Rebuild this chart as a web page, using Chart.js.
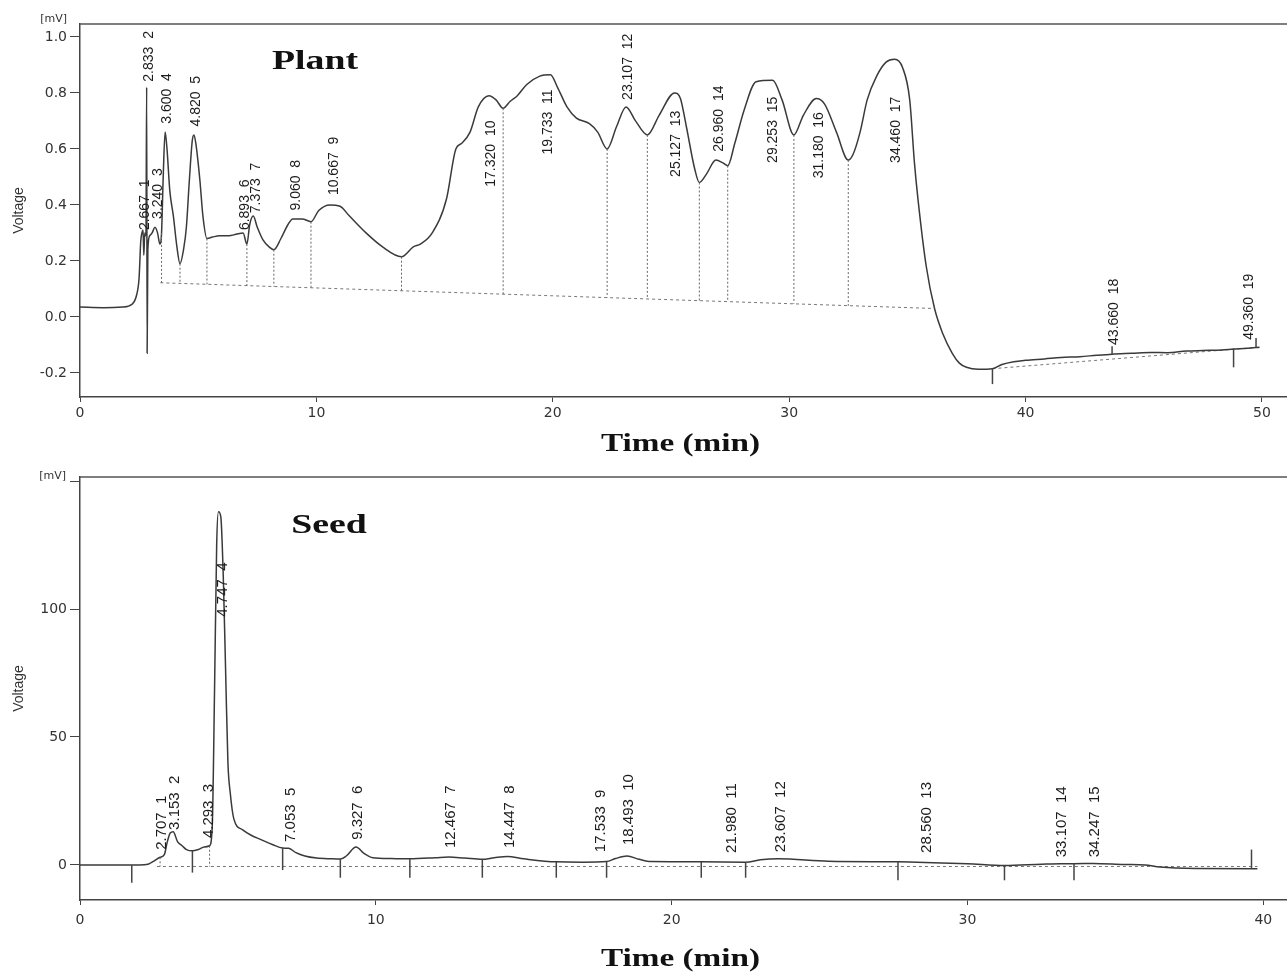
<!DOCTYPE html>
<html>
<head>
<meta charset="utf-8">
<title>Plant / Seed chromatograms</title>
<script src="https://cdn.jsdelivr.net/npm/chart.js@4.4.1/dist/chart.umd.min.js"></script>
<style>
  html, body { margin: 0; padding: 0; background: #fff; }
  #wrap { position: relative; width: 1287px; height: 973px; overflow: hidden; }
  canvas { position: absolute; left: 0; }
  #plant { top: 0; }
  #seed { top: 460px; }
</style>
</head>
<body>
<div id="wrap">
  <canvas id="plant" width="1287" height="460"></canvas>
  <canvas id="seed" width="1287" height="513"></canvas>
</div>
<script>
// --- Plant trace (time in min, signal in mV) ---
const plantTime = [0, 1.0, 1.8, 2.2, 2.4, 2.5, 2.57, 2.62, 2.667, 2.70, 2.74, 2.79, 2.82, 2.84, 2.87, 2.95, 3.05, 3.17, 3.28, 3.38,
  3.45, 3.52, 3.60, 3.68, 3.80, 3.95, 4.1, 4.23, 4.38, 4.5, 4.62, 4.75, 4.82, 4.9, 5.07, 5.2, 5.37, 5.6, 5.9, 6.3,
  6.6, 6.9, 7.06, 7.18, 7.33, 7.5, 7.74, 8.0, 8.2, 8.5, 8.8, 9.0, 9.4, 9.77, 10.1, 10.57, 11.0, 11.4, 12.1, 12.8,
  13.6, 14.1, 14.4, 14.9, 15.5, 15.9, 16.15, 16.5, 16.85, 17.3, 17.6, 17.9, 18.2, 18.5, 18.9, 19.45, 19.9, 20.2, 20.6, 21.0,
  21.55, 21.9, 22.3, 22.7, 23.1, 23.5, 24.0, 24.5, 25.15, 25.4, 25.65, 26.0, 26.2, 26.5, 26.9, 27.2, 27.4, 27.7, 28.1, 28.6,
  29.3, 29.7, 30.2, 30.6, 31.15, 31.5, 32.0, 32.5, 32.7, 33.0, 33.3, 33.7, 34.1, 34.46, 34.8, 35.1, 35.3, 35.45, 35.8, 36.15,
  36.5, 36.9, 37.2, 37.5, 38.0, 38.6, 39.0, 39.5, 40.0, 40.8, 41.5, 42.3, 43.0, 43.66, 44.5, 45.3, 46.0, 46.8, 47.5, 48.3,
  48.8, 49.4, 49.9];
const plantVolt = [0.035, 0.033, 0.035, 0.045, 0.08, 0.14, 0.27, 0.30, 0.31, 0.22, 0.30, 0.29, 0.82, -0.13, 0.24, 0.29, 0.30, 0.32, 0.30, 0.26,
  0.30, 0.50, 0.66, 0.60, 0.45, 0.36, 0.25, 0.19, 0.24, 0.32, 0.48, 0.63, 0.65, 0.62, 0.49, 0.36, 0.28, 0.285, 0.29, 0.29,
  0.295, 0.30, 0.26, 0.33, 0.36, 0.32, 0.275, 0.25, 0.24, 0.28, 0.33, 0.35, 0.35, 0.34, 0.38, 0.40, 0.395, 0.36, 0.30, 0.25,
  0.215, 0.25, 0.26, 0.30, 0.42, 0.60, 0.62, 0.66, 0.75, 0.79, 0.775, 0.745, 0.77, 0.79, 0.83, 0.86, 0.865, 0.82, 0.75, 0.71,
  0.69, 0.66, 0.60, 0.68, 0.75, 0.70, 0.65, 0.72, 0.80, 0.78, 0.68, 0.53, 0.48, 0.51, 0.56, 0.55, 0.54, 0.62, 0.74, 0.84,
  0.845, 0.775, 0.65, 0.72, 0.78, 0.76, 0.66, 0.56, 0.58, 0.66, 0.775, 0.86, 0.91, 0.92, 0.89, 0.775, 0.55, 0.42, 0.18, 0.03,
  -0.06, -0.13, -0.165, -0.18, -0.187, -0.185, -0.17, -0.16, -0.155, -0.15, -0.145, -0.142, -0.137, -0.133, -0.13, -0.127, -0.128, -0.122, -0.12, -0.118,
  -0.115, -0.112, -0.108];
const plantBaseTime = [3.4, 36.15];
const plantBaseVolt = [0.122, 0.03];
const plantBase2Time = [38.6, 49.9];
const plantBase2Volt = [-0.185, -0.108];
const plantDrops = [3.45, 4.23, 5.37, 7.06, 8.2, 9.77, 13.6, 17.9, 22.3, 24.0, 26.2, 27.4, 30.2, 32.5, 36.15];
const plantMarkTime = [38.6, 43.66, 48.8, 49.75];
const plantMarkEnd = [-0.24, -0.105, -0.18, -0.075];
const plantPeaks = [2.667, 2.833, 3.240, 3.600, 4.820, 6.893, 7.373, 9.060, 10.667, 17.320,
  19.733, 23.107, 25.127, 26.960, 29.253, 31.180, 34.460, 43.660, 49.360];
const plantPeakLabelAt = [0.31, 0.84, 0.35, 0.69, 0.68, 0.31, 0.37, 0.38, 0.435, 0.465,
  0.58, 0.775, 0.50, 0.59, 0.55, 0.495, 0.55, -0.10, -0.082];

// --- Seed trace ---
const seedTime = [0, 1.0, 2.0, 2.3, 2.5, 2.707, 2.85, 2.95, 3.05, 3.15, 3.3, 3.45, 3.6, 3.8, 4.0, 4.2, 4.38, 4.47, 4.55, 4.62,
  4.68, 4.76, 4.85, 4.93, 5.0, 5.08, 5.2, 5.5, 5.8, 6.1, 6.5, 6.85, 7.053, 7.3, 7.6, 8.0, 8.5, 8.8, 9.0, 9.33,
  9.6, 9.9, 10.5, 11.15, 12.0, 12.467, 13.0, 13.6, 14.0, 14.447, 15.0, 16.1, 17.0, 17.8, 18.1, 18.493, 18.9, 19.3, 21.0, 22.5,
  23.0, 23.607, 25.3, 27.65, 28.56, 30.0, 31.25, 32.5, 33.15, 33.6, 34.25, 35.3, 36.0, 36.5, 37.7, 39.8];
const seedVolt = [0, 0, 0, 0.3, 1.5, 3, 4, 9, 12.5, 13, 9, 7.5, 6, 5.5, 6, 7, 7.5, 15, 70, 125,
  138, 136, 110, 72, 40, 28, 18, 13.7, 11.5, 10, 8, 6.6, 6.5, 4.8, 3.5, 2.7, 2.4, 2.3, 3.5, 7,
  4.5, 2.8, 2.5, 2.4, 2.8, 3.1, 2.7, 2.2, 2.8, 3.3, 2.4, 1.2, 1.1, 1.3, 2.5, 3.5, 2.2, 1.3, 1.2, 1.1,
  2, 2.4, 1.4, 1.2, 1.0, 0.5, -0.2, 0.3, 0.5, 0.5, 0.6, 0.2, 0, -0.8, -1.4, -1.5];
const seedBaseTime = [2.6, 39.8];
const seedBaseVolt = [-0.6, -0.6];
const seedDrops = [2.707, 4.38];
const seedMarkTime = [1.75, 3.8, 6.85, 8.8, 11.15, 13.6, 16.1, 17.8, 21.0, 22.5, 27.65, 31.25, 33.6, 39.6];
const seedMarkEnd = [-7, -3, -2, -5, -5, -5, -5, -5, -5, -5, -6, -6, -6, 6];
const seedPeaks = [2.707, 3.153, 4.293, 4.747, 7.053, 9.327, 12.467, 14.447, 17.533, 18.493,
  21.980, 23.607, 28.560, 33.107, 34.247];
const seedPeakLabelAt = [5.9, 13.7, 10.5, 97, 9, 9.8, 6.6, 6.6, 5, 7.8, 4.7, 5, 4.7, 3, 3];

const ink = "#333";
const tickFont = { family: "DejaVu Sans", size: 14 };

function toXY(ts, vs) {
  return ts.map((t, i) => ({ x: t, y: vs[i] }));
}

function valueAt(ts, vs, t) {
  if (t <= ts[0]) return vs[0];
  for (let i = 1; i < ts.length; i++) {
    if (t <= ts[i]) {
      const f = (t - ts[i - 1]) / (ts[i] - ts[i - 1]);
      return vs[i - 1] + f * (vs[i] - vs[i - 1]);
    }
  }
  return vs[vs.length - 1];
}

function stretchedText(ctx, text, cx, baseY, font, sx) {
  ctx.save();
  ctx.font = font;
  ctx.translate(cx, baseY);
  ctx.scale(sx, 1);
  ctx.textAlign = "center";
  ctx.textBaseline = "alphabetic";
  ctx.fillText(text, 0, 0);
  ctx.restore();
}

// overlay: frame top, drop lines, marks, peak labels, titles
function makeOverlay(cfg) {
  return {
    id: "overlay_" + cfg.name,
    afterDatasetsDraw(chart) {
      const { ctx, chartArea: a, scales: { x, y } } = chart;
      ctx.save();

      ctx.strokeStyle = "#555";
      ctx.lineWidth = 1.5;
      ctx.beginPath();
      ctx.moveTo(a.left, a.top);
      ctx.lineTo(a.right, a.top);
      ctx.stroke();

      // dashed drop lines curve -> baseline
      ctx.setLineDash([2, 2]);
      ctx.strokeStyle = "#666";
      ctx.lineWidth = 1;
      cfg.drops.forEach(t => {
        const px = x.getPixelForValue(t);
        ctx.beginPath();
        ctx.moveTo(px, y.getPixelForValue(valueAt(cfg.t, cfg.v, t)));
        ctx.lineTo(px, y.getPixelForValue(valueAt(cfg.baseT, cfg.baseV, t)));
        ctx.stroke();
      });

      // solid integration marks
      ctx.setLineDash([]);
      ctx.strokeStyle = "#444";
      ctx.lineWidth = 1.5;
      cfg.markT.forEach((t, i) => {
        const px = x.getPixelForValue(t);
        ctx.beginPath();
        ctx.moveTo(px, y.getPixelForValue(valueAt(cfg.t, cfg.v, t)));
        ctx.lineTo(px, y.getPixelForValue(cfg.markEnd[i]));
        ctx.stroke();
      });

      // rotated peak labels
      ctx.fillStyle = "#1c1c1c";
      ctx.font = cfg.labelFont;
      cfg.peaks.forEach((t, i) => {
        const px = x.getPixelForValue(t) + 2;
        const py = y.getPixelForValue(cfg.labelAt[i]);
        ctx.save();
        ctx.translate(px, py);
        ctx.rotate(-Math.PI / 2);
        ctx.textAlign = "left";
        ctx.textBaseline = "middle";
        ctx.fillText(t.toFixed(3) + "  " + (i + 1), 0, 0);
        ctx.restore();
      });

      // unit
      ctx.fillStyle = ink;
      ctx.font = "11px 'DejaVu Sans'";
      ctx.textAlign = "right";
      ctx.textBaseline = "middle";
      ctx.fillText("[mV]", cfg.unitX, cfg.unitY);

      // sample name and axis title
      ctx.fillStyle = "#111";
      stretchedText(ctx, cfg.name, cfg.nameX, cfg.nameY, "bold " + cfg.nameSize + "px 'Liberation Serif'", cfg.nameSx);
      stretchedText(ctx, "Time (min)", (a.left + a.right) / 2 - 3, cfg.timeY, "bold 25px 'Liberation Serif'", 1.33);

      ctx.restore();
    }
  };
}

function makeChart(id, cfg) {
  return new Chart(document.getElementById(id), {
    type: "line",
    data: {
      datasets: [
        {
          data: toXY(cfg.t, cfg.v),
          borderColor: "#3a3a3a",
          borderWidth: 1.5,
          pointRadius: 0,
          cubicInterpolationMode: "monotone",
          fill: false
        },
        ...cfg.baselines.map(b => ({
          data: toXY(b[0], b[1]),
          borderColor: "#777",
          borderWidth: 1,
          borderDash: [3, 3],
          pointRadius: 0,
          fill: false
        }))
      ]
    },
    options: {
      responsive: false,
      animation: false,
      devicePixelRatio: 1,
      layout: { padding: { top: cfg.padTop, left: 0, right: 0, bottom: 0 } },
      plugins: { legend: { display: false }, tooltip: { enabled: false } },
      scales: {
        x: {
          type: "linear",
          min: 0,
          max: cfg.xMax,
          afterFit: s => { s.height = cfg.xHeight; },
          ticks: { stepSize: 10, includeBounds: false, font: tickFont, color: ink, padding: cfg.xPad, maxRotation: 0 },
          grid: { drawOnChartArea: false, tickLength: 5, color: "#444" },
          border: { color: "#444", width: 1.5 }
        },
        y: {
          min: cfg.yMin,
          max: cfg.yMax,
          afterFit: s => { s.width = 80; },
          ticks: {
            stepSize: cfg.yStep,
            includeBounds: false,
            font: tickFont,
            color: ink,
            padding: 3,
            callback: cfg.yFmt
          },
          grid: { drawOnChartArea: false, tickLength: 10, color: "#444" },
          border: { color: "#444", width: 1.5 },
          title: {
            display: true,
            text: "Voltage",
            color: ink,
            font: { family: "Liberation Sans", size: 14 },
            padding: { top: 11, bottom: 0 }
          }
        }
      }
    },
    plugins: [makeOverlay(cfg)]
  });
}

makeChart("plant", {
  name: "Plant",
  t: plantTime, v: plantVolt,
  baseT: plantBaseTime, baseV: plantBaseVolt,
  baselines: [[plantBaseTime, plantBaseVolt], [plantBase2Time, plantBase2Volt]],
  drops: plantDrops,
  markT: plantMarkTime, markEnd: plantMarkEnd,
  peaks: plantPeaks, labelAt: plantPeakLabelAt,
  labelFont: "14px 'Liberation Sans'",
  padTop: 24, xHeight: 63, xPad: 3, xMax: 51.06,
  yMin: -0.286, yMax: 1.046, yStep: 0.2,
  yFmt: v => v.toFixed(1),
  unitX: 67, unitY: 19,
  nameX: 315, nameY: 69, nameSize: 28, nameSx: 1.35,
  timeY: 451
});

// the 150 tick keeps its mark but carries the [mV] unit instead of a number
makeChart("seed", {
  name: "Seed",
  t: seedTime, v: seedVolt,
  baseT: seedBaseTime, baseV: seedBaseVolt,
  baselines: [[seedBaseTime, seedBaseVolt]],
  drops: seedDrops,
  markT: seedMarkTime, markEnd: seedMarkEnd,
  peaks: seedPeaks, labelAt: seedPeakLabelAt,
  labelFont: "15px 'Liberation Sans'",
  padTop: 17, xHeight: 73, xPad: 7, xMax: 40.8,
  yMin: -13.7, yMax: 151.6, yStep: 50,
  yFmt: v => (v >= 150 ? "" : String(v)),
  unitX: 66, unitY: 16,
  nameX: 329, nameY: 73, nameSize: 27, nameSx: 1.4,
  timeY: 506
});
</script>
</body>
</html>
